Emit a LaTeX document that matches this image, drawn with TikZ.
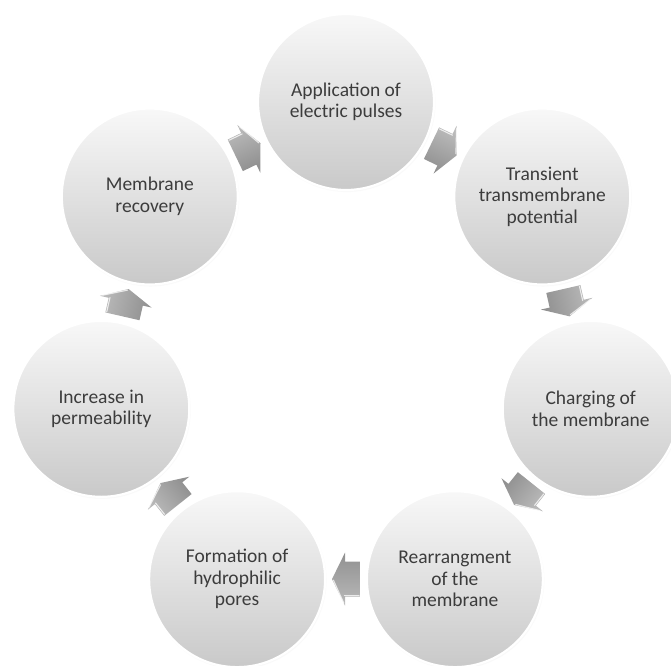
\documentclass[tikz,border=0pt]{standalone}
\usepackage{fontspec}
\setmainfont{Carlito}
\usetikzlibrary{calc,shadows}
\definecolor{txt}{HTML}{3C3C3C}
\definecolor{ctop}{HTML}{F8F8F8}
\definecolor{cbot}{HTML}{C9C9C9}
\definecolor{atop}{HTML}{BABABA}
\definecolor{abot}{HTML}{909090}
\tikzset{
  stage/.style={circle, minimum size=176pt, inner sep=0pt, align=center,
    text=txt, font=\fontsize{19.5}{21.5}\selectfont,
    top color=ctop, bottom color=cbot, draw=white, line width=2.2pt,
    circular drop shadow={shadow xshift=0.6pt, shadow yshift=-1.2pt,
      shadow scale=1.012, opacity=0.35}},
  pics/blockarrow/.style={code={
    \path[top color=atop, bottom color=abot, shading angle=#1]
      (-14,-17.5) -- (1,-17.5) -- (1,-26.5) -- (14,0) -- (1,26.5)
      -- (1,17.5) -- (-14,17.5) -- cycle;
    \draw[white, opacity=0.75, line width=1.1pt, line cap=round]
      (-13,16.3) -- (1.5,16.3);
    \draw[white, opacity=0.75, line width=1.1pt, line cap=round]
      (2.2,24) -- (12.6,1);
  }}
}
\begin{document}
\begin{tikzpicture}[x=1pt,y=1pt]
\useasboundingbox (0,0) rectangle (671,-665);
\coordinate (O) at (346,-353);
\node[stage] (c1) at ($(O)+(90:251)$) {Application of\\electric pulses};
\node[stage] (c2) at ($(O)+(38.571:251)$) {Transient\\transmembrane\\potential};
\node[stage] (c3) at ($(O)+(-12.857:251)$) {Charging of\\the membrane};
\node[stage] (c4) at ($(O)+(-64.286:251)$) {Rearrangment\\of the\\membrane};
\node[stage] (c5) at ($(O)+(-115.714:251)$) {Formation of\\hydrophilic\\pores};
\node[stage] (c6) at ($(O)+(-167.143:251)$) {Increase in\\permeability};
\node[stage] (c7) at ($(O)+(141.429:251)$) {Membrane\\recovery};
\foreach \a/\b/\r in {c1/c2/-25.714, c2/c3/-77.143, c3/c4/-128.571,
  c4/c5/-180, c5/c6/-231.429, c6/c7/-282.857, c7/c1/-334.286}{
  \pic[rotate=\r] at ($(\a.center)!0.5!(\b.center)$) {blockarrow=\r};
}
\end{tikzpicture}
\end{document}
